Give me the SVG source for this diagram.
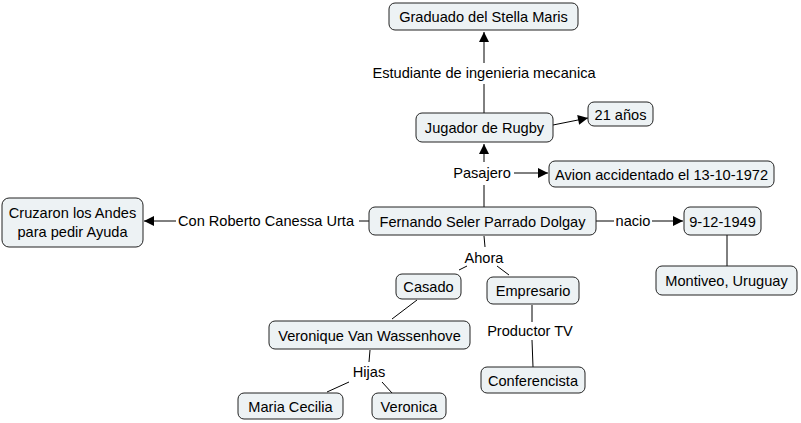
<svg xmlns="http://www.w3.org/2000/svg" width="801" height="423" viewBox="0 0 801 423">
<defs>
<marker id="ah" viewBox="0 0 10 10" refX="10" refY="5" markerWidth="11" markerHeight="10" markerUnits="userSpaceOnUse" orient="auto">
<path d="M0,0 L10,5 L0,10 Z" fill="#000"/>
</marker>
<style>
.n rect{fill:#edf2f4;stroke:#222;stroke-width:1}
text{font-family:"Liberation Sans","DejaVu Sans",sans-serif;font-size:14.6px;fill:#000;text-anchor:middle}
.c line{stroke:#000;stroke-width:1}
.a{marker-end:url(#ah)}
</style>
</defs>
<rect width="801" height="423" fill="#fff"/>
<g id="connectors" class="c">
<line x1="484" y1="113" x2="484" y2="84"/>
<line class="a" x1="484" y1="63" x2="484" y2="32"/>
<line class="a" x1="553" y1="125" x2="588" y2="118"/>
<line x1="484" y1="207" x2="484" y2="185"/>
<line class="a" x1="484" y1="162" x2="484" y2="144"/>
<line class="a" x1="514" y1="173" x2="548" y2="173"/>
<line x1="596" y1="221" x2="614" y2="221"/>
<line class="a" x1="652" y1="221" x2="683" y2="221"/>
<line x1="727" y1="235" x2="727" y2="266"/>
<line x1="369" y1="221" x2="359" y2="221"/>
<line class="a" x1="176" y1="221" x2="144" y2="221"/>
<line x1="484" y1="236" x2="485" y2="247"/>
<line x1="467" y1="266" x2="459" y2="270"/>
<line x1="497" y1="266" x2="509" y2="275"/>
<line x1="417" y1="300" x2="392" y2="319"/>
<line x1="532" y1="305" x2="532" y2="322"/>
<line x1="532" y1="340" x2="533" y2="367"/>
<line x1="370" y1="350" x2="369" y2="362"/>
<line x1="349" y1="382" x2="327" y2="392"/>
<line x1="382" y1="382" x2="392" y2="393"/>
</g>
<g id="labels">
<text x="484" y="78">Estudiante de ingenieria mecanica</text>
<text x="482" y="178">Pasajero</text>
<text x="633" y="226">nacio</text>
<text x="266" y="226">Con Roberto Canessa Urta</text>
<text x="484" y="263">Ahora</text>
<text x="530" y="336">Productor TV</text>
<text x="369" y="377">Hijas</text>
</g>
<g id="graduado" class="n"><rect x="389" y="3" width="189" height="27" rx="6"/><text x="483.5" y="22">Graduado del Stella Maris</text></g>
<g id="jugador" class="n"><rect x="416" y="113" width="137" height="29" rx="6"/><text x="484.5" y="132.5">Jugador de Rugby</text></g>
<g id="edad" class="n"><rect x="588" y="102" width="65" height="24" rx="6"/><text x="620.5" y="119.5">21 años</text></g>
<g id="avion" class="n"><rect x="549" y="161" width="225" height="26" rx="6"/><text x="661.5" y="179.5">Avion accidentado el 13-10-1972</text></g>
<g id="fernando" class="n"><rect x="369" y="207" width="227" height="28" rx="6"/><text x="482.5" y="226.5">Fernando Seler Parrado Dolgay</text></g>
<g id="fecha" class="n"><rect x="684" y="207" width="77" height="28" rx="6"/><text x="722.5" y="226.5">9-12-1949</text></g>
<g id="montiveo" class="n"><rect x="656" y="266" width="141" height="29" rx="6"/><text x="726.5" y="285.5">Montiveo, Uruguay</text></g>
<g id="cruzaron" class="n"><rect x="2" y="198" width="141" height="49" rx="7"/><text x="72.5" y="217.5">Cruzaron los Andes</text><text x="72.5" y="236.5">para pedir Ayuda</text></g>
<g id="casado" class="n"><rect x="396" y="274" width="65" height="25" rx="6"/><text x="428.5" y="292">Casado</text></g>
<g id="empresario" class="n"><rect x="487" y="277" width="92" height="27" rx="6"/><text x="533" y="295.5">Empresario</text></g>
<g id="veronique" class="n"><rect x="269" y="321" width="201" height="28" rx="6"/><text x="369.5" y="340.5">Veronique Van Wassenhove</text></g>
<g id="conferencista" class="n"><rect x="481" y="367" width="104" height="26" rx="6"/><text x="533" y="385.5">Conferencista</text></g>
<g id="maria" class="n"><rect x="238" y="393" width="105" height="26" rx="6"/><text x="290.5" y="411.5">Maria Cecilia</text></g>
<g id="veronica" class="n"><rect x="372" y="393" width="74" height="26" rx="6"/><text x="409" y="411.5">Veronica</text></g>
</svg>
